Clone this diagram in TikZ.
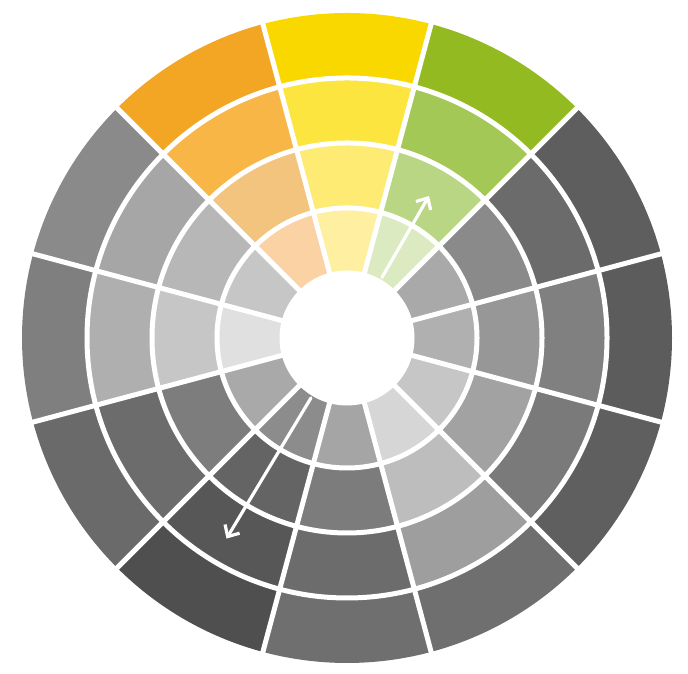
\documentclass[tikz,border=0pt]{standalone}
\usetikzlibrary{arrows.meta}
% sector k (centre angle 90-30k), ring 1 (inner) .. 4 (outer)
\definecolor{c0r4}{HTML}{F9D800}\definecolor{c0r3}{HTML}{FDE540}\definecolor{c0r2}{HTML}{FDEB74}\definecolor{c0r1}{HTML}{FEF0A0}
\definecolor{c1r4}{HTML}{94BA21}\definecolor{c1r3}{HTML}{A4C855}\definecolor{c1r2}{HTML}{B9D684}\definecolor{c1r1}{HTML}{DBEAC0}
\definecolor{c2r4}{HTML}{5E5E5E}\definecolor{c2r3}{HTML}{6B6B6B}\definecolor{c2r2}{HTML}{8A8A8A}\definecolor{c2r1}{HTML}{A9A9A9}
\definecolor{c3r4}{HTML}{5C5C5C}\definecolor{c3r3}{HTML}{808080}\definecolor{c3r2}{HTML}{979797}\definecolor{c3r1}{HTML}{B0B0B0}
\definecolor{c4r4}{HTML}{5F5F5F}\definecolor{c4r3}{HTML}{7A7A7A}\definecolor{c4r2}{HTML}{A2A2A2}\definecolor{c4r1}{HTML}{C6C6C6}
\definecolor{c5r4}{HTML}{6F6F6F}\definecolor{c5r3}{HTML}{9E9E9E}\definecolor{c5r2}{HTML}{BDBDBD}\definecolor{c5r1}{HTML}{D6D6D6}
\definecolor{c6r4}{HTML}{6F6F6F}\definecolor{c6r3}{HTML}{6C6C6C}\definecolor{c6r2}{HTML}{7C7C7C}\definecolor{c6r1}{HTML}{A5A5A5}
\definecolor{c7r4}{HTML}{4F4F4F}\definecolor{c7r3}{HTML}{575757}\definecolor{c7r2}{HTML}{646464}\definecolor{c7r1}{HTML}{8C8C8C}
\definecolor{c8r4}{HTML}{6A6A6A}\definecolor{c8r3}{HTML}{6C6C6C}\definecolor{c8r2}{HTML}{7D7D7D}\definecolor{c8r1}{HTML}{A9A9A9}
\definecolor{c9r4}{HTML}{7F7F7F}\definecolor{c9r3}{HTML}{AFAFAF}\definecolor{c9r2}{HTML}{C6C6C6}\definecolor{c9r1}{HTML}{E0E0E0}
\definecolor{c10r4}{HTML}{8A8A8A}\definecolor{c10r3}{HTML}{A6A6A6}\definecolor{c10r2}{HTML}{B7B7B7}\definecolor{c10r1}{HTML}{C6C6C6}
\definecolor{c11r4}{HTML}{F2A624}\definecolor{c11r3}{HTML}{F8B646}\definecolor{c11r2}{HTML}{F3C47D}\definecolor{c11r1}{HTML}{FAD2A4}
\begin{document}
\begin{tikzpicture}[x=0.01cm,y=0.01cm,
  sep/.style={white,line width=0.05cm},
  ptr/.style={white,line width=0.032cm,line cap=round,
    -{Straight Barb[length=0.09cm,width=0.17cm,line width=0.032cm]}}]
\useasboundingbox (0,0) rectangle (688,674);
\begin{scope}[shift={(347,336)}]
  % annular sectors
  \foreach \k in {0,...,11}{
    \foreach \j in {1,...,4}{
      \pgfmathsetmacro\aa{90-30*\k-15}
      \pgfmathsetmacro\ab{90-30*\k+15}
      \pgfmathsetmacro\ri{65*\j}
      \pgfmathsetmacro\ro{65*\j+65}
      \fill[fill=c\k r\j] (\aa:\ri) arc[start angle=\aa,end angle=\ab,radius=\ri]
        -- (\ab:\ro) arc[start angle=\ab,end angle=\aa,radius=\ro] -- cycle;
    }
  }
  % radial separators
  \foreach \k in {0,...,11}{
    \pgfmathsetmacro\aa{15+30*\k}
    \draw[sep] (\aa:60) -- (\aa:330);
  }
  % ring separators
  \foreach \r in {130,195,260}{
    \draw[sep] (0,0) circle[radius=\r];
  }
  % centre disk
  \fill[white] (0,0) circle[radius=67.5];
  % arrows
  \coordinate (ga) at (60:70);
  \coordinate (gb) at (60:164);
  \coordinate (ka) at (-121:70);
  \coordinate (kb) at (-121:234);
  \draw[ptr] (ga) -- (gb);
  \draw[ptr] (ka) -- (kb);
\end{scope}
\end{tikzpicture}
\end{document}
